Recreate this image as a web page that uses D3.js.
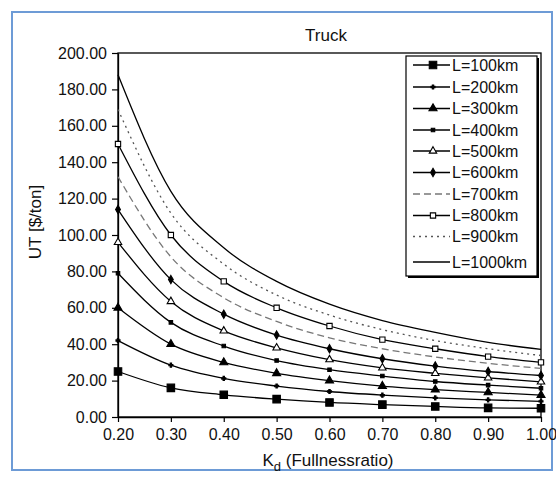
<!DOCTYPE html>
<html>
<head>
<meta charset="utf-8">
<script src="https://cdn.jsdelivr.net/npm/d3@7"></script>
<style>
  body { margin: 0; background: #fff; }
  svg { display: block; font-family: "Liberation Sans", Arial, sans-serif; }
</style>
</head>
<body>
<svg id="chart" width="556" height="480"></svg>
<script>
// Kd values (x axis)
const kd = [0.2, 0.3, 0.4, 0.5, 0.6, 0.7, 0.8, 0.9, 1.0];

// UT [$/ton], one array per distance
const l100  = [25, 16, 12.2, 9.8, 8, 6.8, 5.8, 5, 4.8];
const l200  = [42, 28.5, 21.2, 17, 14, 12, 10.5, 9.4, 8.6];
const l300  = [60, 40, 30, 24, 20, 17, 15, 13.5, 12];
const l400  = [79, 52, 39, 31, 26, 22.5, 19.5, 17.5, 15.8];
const l500  = [96, 63.5, 47.3, 38, 31.5, 27, 24, 21.5, 19.3];
const l600  = [114, 75.5, 56.5, 45, 37.5, 32, 28, 25, 22.8];
const l700  = [132, 88, 65.5, 52.5, 43.5, 37.5, 33, 29.5, 26.7];
const l800  = [150, 100, 74.5, 60, 50, 42.5, 37.5, 33.2, 30];
const l900  = [169, 112, 84, 67, 56, 48, 42, 37.5, 33.8];
const l1000 = [188, 124, 93, 74.5, 62, 53, 46.5, 41, 37.2];

const seriesNames = ["L=100km", "L=200km", "L=300km", "L=400km", "L=500km",
                     "L=600km", "L=700km", "L=800km", "L=900km", "L=1000km"];
const seriesValues = [l100, l200, l300, l400, l500, l600, l700, l800, l900, l1000];

const xTicks = [0.2, 0.3, 0.4, 0.5, 0.6, 0.7, 0.8, 0.9, 1.0];
const yTicks = [0, 20, 40, 60, 80, 100, 120, 140, 160, 180, 200];

// line / marker look for each series
const styles = [
    {marker: "bigsquare", dash: null, color: "#000"},
    {marker: "cross", dash: null, color: "#000"},
    {marker: "triangle", dash: null, color: "#000"},
    {marker: "smallsquare", dash: null, color: "#000"},
    {marker: "opentriangle", dash: null, color: "#000"},
    {marker: "dot", dash: null, color: "#000"},
    {marker: null, dash: "7,4", color: "#777"},
    {marker: "opensquare", dash: null, color: "#000"},
    {marker: null, dash: "2,4", color: "#555"},
    {marker: null, dash: null, color: "#000"}
];

const svg = d3.select("#chart");

// outer frame
svg.append("rect")
    .attr("x", 12).attr("y", 12)
    .attr("width", 540).attr("height", 458)
    .attr("fill", "none")
    .attr("stroke", "#6d9bd6")
    .attr("stroke-width", 2);

const plotLeft = 118, plotRight = 541, plotTop = 53, plotBottom = 417;

const x = d3.scaleLinear().domain([0.2, 1.0]).range([plotLeft, plotRight]);
const y = d3.scaleLinear().domain([0, 200]).range([plotBottom, plotTop]);

// plot box
svg.append("rect")
    .attr("x", plotLeft).attr("y", plotTop)
    .attr("width", plotRight - plotLeft).attr("height", plotBottom - plotTop)
    .attr("fill", "none")
    .attr("stroke", "#000")
    .attr("stroke-width", 1.3);

const xAxis = svg.append("g")
    .attr("transform", `translate(0,${plotBottom})`)
    .call(d3.axisBottom(x).tickValues(xTicks).tickFormat(d3.format(".2f")).tickSize(5).tickSizeOuter(0).tickPadding(7));

const yAxis = svg.append("g")
    .attr("transform", `translate(${plotLeft},0)`)
    .call(d3.axisLeft(y).tickValues(yTicks).tickFormat(d3.format(".2f")).tickSize(6).tickSizeOuter(0).tickPadding(5));

[xAxis, yAxis].forEach(a => {
    a.select(".domain").attr("stroke", "#000").attr("stroke-width", 1.3);
    a.selectAll(".tick line").attr("stroke", "#000").attr("stroke-width", 1.2);
    a.selectAll("text")
        .attr("fill", "#111")
        .style("font-size", "16px")
        .style("font-family", "'Liberation Sans', Arial, sans-serif");
});

// titles
svg.append("text")
    .attr("x", 326).attr("y", 41)
    .attr("text-anchor", "middle")
    .style("font-size", "17px")
    .attr("fill", "#111")
    .text("Truck");

svg.append("text")
    .attr("transform", "translate(41,222) rotate(-90)")
    .attr("text-anchor", "middle")
    .style("font-size", "17px")
    .attr("fill", "#111")
    .text("UT [$/ton]");

const xLabel = svg.append("text")
    .attr("x", 328).attr("y", 466)
    .attr("text-anchor", "middle")
    .style("font-size", "17px")
    .attr("fill", "#111");
xLabel.append("tspan").text("K");
xLabel.append("tspan").attr("dy", 5).style("font-size", "13px").text("d");
xLabel.append("tspan").attr("dy", -5).text(" (Fullnessratio)");

// curves
const line = d3.line()
    .x((d, i) => x(kd[i]))
    .y(d => y(d))
    .curve(d3.curveMonotoneX);

function drawMarker(g, type, cx, cy) {
    if (!type) return;
    const s = {
        bigsquare: {sym: d3.symbolSquare, size: 56, fill: "#000"},
        cross: {sym: d3.symbolCross, size: 9, fill: "#000"},
        triangle: {sym: d3.symbolTriangle, size: 28, fill: "#000"},
        smallsquare: {sym: d3.symbolSquare, size: 12, fill: "#000"},
        opentriangle: {sym: d3.symbolTriangle, size: 24, fill: "#fff"},
        dot: {sym: d3.symbolDiamond, size: 20, fill: "#000"},
        opensquare: {sym: d3.symbolSquare, size: 28, fill: "#fff"}
    }[type];
    g.append("path")
        .attr("d", d3.symbol().type(s.sym).size(s.size)())
        .attr("transform", `translate(${cx},${cy})`)
        .attr("fill", s.fill)
        .attr("stroke", "#000")
        .attr("stroke-width", 1.1);
}

const plot = svg.append("g");
seriesValues.forEach((vals, k) => {
    const st = styles[k];
    plot.append("path")
        .datum(vals)
        .attr("d", line)
        .attr("fill", "none")
        .attr("stroke", st.color)
        .attr("stroke-width", 1.3)
        .attr("stroke-dasharray", st.dash);
    vals.forEach((v, i) => drawMarker(plot, st.marker, x(kd[i]), y(v)));
});

// legend
const lgX = 406, lgY = 56, lgW = 131, lgH = 220;
svg.append("rect")
    .attr("x", lgX + 2).attr("y", lgY + 2)
    .attr("width", lgW).attr("height", lgH)
    .attr("fill", "#000");
svg.append("rect")
    .attr("x", lgX).attr("y", lgY)
    .attr("width", lgW).attr("height", lgH)
    .attr("fill", "#fff")
    .attr("stroke", "#000")
    .attr("stroke-width", 1.2);

const rowY = [65, 87, 108.5, 130, 151, 172.5, 194, 215.5, 236.5, 262];
seriesNames.forEach((name, k) => {
    const st = styles[k];
    const ly = rowY[k];
    const g = svg.append("g");
    g.append("line")
        .attr("x1", lgX + 7).attr("x2", lgX + 44)
        .attr("y1", ly).attr("y2", ly)
        .attr("stroke", st.color)
        .attr("stroke-width", 1.3)
        .attr("stroke-dasharray", st.dash);
    drawMarker(g, st.marker, lgX + 27, ly);
    g.append("text")
        .attr("x", lgX + 46).attr("y", ly)
        .attr("dy", "0.36em")
        .style("font-size", "16px")
        .attr("fill", "#111")
        .text(name);
});
</script>
</body>
</html>
